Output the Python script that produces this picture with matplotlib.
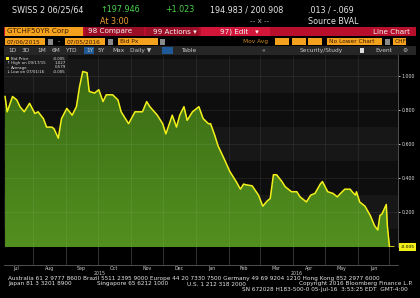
import matplotlib
matplotlib.use('Agg')
import matplotlib.pyplot as plt
import matplotlib.dates as mdates
import matplotlib.transforms as mtransforms
from matplotlib.patches import Rectangle
import numpy as np
import pandas as pd

# GTCHF50YR Corp, bid price (yield)
dates = ['2015-07-06', '2015-07-08', '2015-07-13', '2015-07-17', '2015-07-20', '2015-07-24',
         '2015-07-29', '2015-08-03', '2015-08-06', '2015-08-11', '2015-08-14', '2015-08-19',
         '2015-08-21', '2015-08-25', '2015-08-28', '2015-09-02', '2015-09-07', '2015-09-11',
         '2015-09-14', '2015-09-17', '2015-09-21', '2015-09-23', '2015-09-28', '2015-09-30',
         '2015-10-02', '2015-10-06', '2015-10-09', '2015-10-15', '2015-10-20', '2015-10-23',
         '2015-10-30', '2015-11-05', '2015-11-12', '2015-11-16', '2015-11-19', '2015-11-26',
         '2015-12-01', '2015-12-04', '2015-12-10', '2015-12-14', '2015-12-17', '2015-12-21',
         '2015-12-24', '2015-12-29', '2016-01-04', '2016-01-08', '2016-01-13', '2016-01-15',
         '2016-01-19', '2016-01-22', '2016-01-28', '2016-02-02', '2016-02-08', '2016-02-12',
         '2016-02-15', '2016-02-18', '2016-02-23', '2016-02-29', '2016-03-04', '2016-03-08',
         '2016-03-11', '2016-03-14', '2016-03-17', '2016-03-22', '2016-03-25', '2016-03-31',
         '2016-04-05', '2016-04-08', '2016-04-14', '2016-04-18', '2016-04-22', '2016-04-27',
         '2016-04-29', '2016-05-04', '2016-05-09', '2016-05-13', '2016-05-16', '2016-05-20',
         '2016-05-25', '2016-05-27', '2016-05-30', '2016-05-31', '2016-06-03', '2016-06-08',
         '2016-06-13', '2016-06-17', '2016-06-20', '2016-06-22', '2016-06-24', '2016-06-28',
         '2016-06-29', '2016-07-01', '2016-07-05']
bid_px = [0.88, 0.79, 0.88, 0.86, 0.82, 0.79,
          0.84, 0.78, 0.79, 0.75, 0.70, 0.70,
          0.69, 0.635, 0.75, 0.81, 0.77, 0.82,
          0.94, 1.027, 1.02, 0.91, 0.90, 0.91,
          0.92, 0.85, 0.89, 0.89, 0.86, 0.79,
          0.72, 0.79, 0.79, 0.85, 0.82, 0.77,
          0.72, 0.66, 0.77, 0.70, 0.77, 0.82,
          0.74, 0.79, 0.82, 0.75, 0.72, 0.72,
          0.65, 0.59, 0.51, 0.44, 0.38, 0.335,
          0.365, 0.36, 0.355, 0.30, 0.235, 0.265,
          0.28, 0.42, 0.42, 0.38, 0.35, 0.32,
          0.32, 0.29, 0.26, 0.30, 0.31, 0.365,
          0.38, 0.32, 0.31, 0.29, 0.31, 0.335,
          0.335, 0.32, 0.30, 0.32, 0.26, 0.235,
          0.18, 0.12, 0.095, 0.18, 0.19, 0.245,
          0.12, -0.005, -0.005]

month_starts = ['2015-07-01', '2015-08-01', '2015-09-01', '2015-10-01', '2015-11-01',
                '2015-12-01', '2016-01-01', '2016-02-01', '2016-03-01', '2016-04-01',
                '2016-05-01', '2016-06-01', '2016-07-01']
month_labels = ['Jul', 'Aug', 'Sep', 'Oct', 'Nov', 'Dec', 'Jan', 'Feb', 'Mar', 'Apr', 'May', 'Jun']
year_labels = ['2015', '2016']
y_ticks = [0.2, 0.4, 0.6, 0.8, 1.0]
y_tick_labels = ['0.200', '0.400', '0.600', '0.800', '1.000']
legend_names = ['Bid Price', 'High on 09/17/15', 'Average', 'Low on 07/01/16']
legend_values = ['-0.005', '1.027', '0.579', '-0.005']
last_label = '-0.005'

W, H = 420, 298
fig = plt.figure(figsize=(4.2, 2.98), dpi=100, facecolor='black')


def fx(x):
    return x / W


def fy(y):
    return 1 - y / H


def box(x0, y0, x1, y1, color):
    fig.patches.append(Rectangle((fx(x0), fy(y1)), (x1 - x0) / W, (y1 - y0) / H,
                                 transform=fig.transFigure, facecolor=color,
                                 edgecolor='none', zorder=0))


def txt(x, y, s, size=6.0, color='#e6e6e6', ha='left', **kw):
    fig.text(fx(x), fy(y), s, fontsize=size, color=color, ha=ha, va='center', **kw)


# ---- header quote lines
txt(12, 10, 'SWISS 2 06/25/64', 5.8)
txt(100, 10, '\u2191197.946', 5.8, '#4cd24c')
txt(165, 10, '+1.023', 5.8, '#4cd24c')
txt(210, 10, '194.983 / 200.908', 5.8)
txt(308, 10, '.013 / -.069', 5.8)
txt(100, 21, 'At 3:00', 5.8, '#f0a030')
txt(250, 21, '-- x --', 5.2, '#aaaaaa')
txt(308, 21, 'Source BVAL', 5.8)

# ---- red toolbar
box(4, 27, 416, 36, '#b8102c')
box(85, 27, 144, 36, '#9c0e26')
box(146, 27, 199, 36, '#9c0e26')
box(201, 27, 270, 36, '#d2163a')
box(5, 27, 83, 36, '#f4a21e')
txt(7, 31.5, 'GTCHF50YR Corp', 5.2, '#402000')
txt(88, 31.5, '98 Compare', 5.2, '#f2f2f2')
txt(153, 31.5, '99 Actions \u25be', 5.2, '#f2f2f2')
txt(220, 31.5, '97) Edit   \u25be', 5.2, '#f2f2f2')
txt(410, 31.5, 'Line Chart', 5.2, '#f2f2f2', ha='right')

# ---- orange input row
for x0, x1, s in [(5, 45, '07/06/2015'), (65, 105, '07/05/2016'), (118, 158, 'Bid Px'),
                  (327, 382, 'No Lower Chart'), (393, 406, 'CHF')]:
    box(x0, 38, x1, 45, '#f4a21e')
    txt(x0 + 2, 41.5, s, 4.2, '#3a1a00')
for x0 in [275, 292, 308]:
    box(x0, 38, x0 + 14, 45, '#f4a21e')
for x0 in [48, 108, 160, 385]:
    box(x0, 38.5, x0 + 5, 44.5, '#8a8a8a')
txt(58, 41.5, '-', 4.5)
txt(268, 41.5, 'Mov Avg', 4.2, '#d08a20', ha='right')

# ---- period buttons row
box(4, 46, 416, 55, '#262626')
box(84, 47, 94, 54, '#1f5a96')
box(162, 47, 173, 54, '#1f5a96')
for x, s in [(8, '1D'), (22, '3D'), (37, '1M'), (52, '6M'), (65, 'YTD'), (86, '1Y'),
             (98, '5Y'), (112, 'Max'), (130, 'Daily \u25bc'), (181, 'Table'),
             (262, '\u00ab'), (300, 'Security/Study'), (375, 'Event'), (402, '\u2699')]:
    txt(x, 50.5, s, 4.2, '#c8c8c8')
box(360, 48, 364, 53, '#dddddd')

# ---- main chart
xnum = mdates.date2num(pd.to_datetime(dates))
x_lo = mdates.date2num(pd.Timestamp('2015-07-05'))
x_hi = mdates.date2num(pd.Timestamp('2016-07-09'))
y_lo, y_hi = -0.005, 1.124

ax = fig.add_axes([fx(4), fy(247), (398 - 4) / W, (247 - 55) / H])
ax.set_facecolor('#0e0e0e')
ax.set_xlim(x_lo, x_hi)
ax.set_ylim(y_lo, y_hi)

# faint background bands
for b0, b1 in [(0.1, 0.3), (0.5, 0.7), (0.9, 1.1)]:
    ax.axhspan(b0, b1, color='#171717', lw=0, zorder=0)

poly = ax.fill_between(xnum, bid_px, y_lo, color='#467f1a', lw=0, zorder=1)
grad = np.linspace(0, 1, 256).reshape(-1, 1)
cmap = matplotlib.colors.LinearSegmentedColormap.from_list('g', ['#52901f', '#3a6a14'])
img = ax.imshow(grad, cmap=cmap, aspect='auto', origin='lower',
                extent=(x_lo, x_hi, y_lo, 1.05), zorder=2)
img.set_clip_path(poly.get_paths()[0], transform=ax.transData)
ax.set_xlim(x_lo, x_hi)
ax.set_ylim(y_lo, y_hi)

ms = mdates.date2num(pd.to_datetime(month_starts))
for m in ms[1:-1]:
    ax.axvline(m, color='#ffffff', alpha=0.08, lw=0.6, zorder=3)
for t in y_ticks:
    ax.axhline(t, color='#ffffff', alpha=0.08, lw=0.6, zorder=3)

ax.plot(xnum, bid_px, color='#f4f01c', lw=1.1, zorder=4, solid_joinstyle='round')

ax.yaxis.tick_right()
ax.set_yticks(y_ticks)
ax.set_yticklabels(y_tick_labels)
ax.tick_params(axis='y', colors='#dddddd', labelsize=3.4, length=1.5, width=0.6, pad=1)
ax.set_xticks([])
for side in ['top', 'left', 'bottom']:
    ax.spines[side].set_visible(False)
ax.spines['right'].set_color('#5a5a5a')
ax.spines['right'].set_linewidth(0.6)

blend = mtransforms.blended_transform_factory(ax.transAxes, ax.transData)
ax.text(1.006, bid_px[-1], last_label, transform=blend, fontsize=3.2, color='black',
        va='center', ha='left', clip_on=False, zorder=6,
        bbox=dict(boxstyle='square,pad=0.35', fc='#f2ee1a', ec='none'))

# legend block
box(4, 55, 68, 74, '#1b1b1b')
leg_y = [58.5, 63, 67.5, 72]
fig.patches.append(Rectangle((fx(6), fy(60)), 3 / W, 3 / H, transform=fig.transFigure,
                             facecolor='#f2ee1a', edgecolor='none', zorder=5))
for sym, yy in zip(['', '\u2191', '\u2013', '\u2193'], leg_y):
    if sym:
        txt(6.3, yy, sym, 3.0, '#dddddd')
for name, val, yy in zip(legend_names, legend_values, leg_y):
    txt(11, yy, name, 2.9, '#dddddd')
    txt(66, yy, val, 2.9, '#dddddd', ha='right')

# ---- date strip
ax2 = fig.add_axes([fx(4), fy(265), (398 - 4) / W, (265 - 247) / H])
ax2.set_facecolor('black')
ax2.set_xlim(x_lo, x_hi)
ax2.set_ylim(0, 1)
for m in ms[1:]:
    ax2.axvline(m, color='#3a3a3a', lw=0.6)
ax2.set_xticks([])
ax2.set_yticks([])
for side in ['top', 'left', 'right']:
    ax2.spines[side].set_visible(False)
ax2.spines['bottom'].set_color('#5a5a5a')
ax2.spines['bottom'].set_linewidth(0.6)
mid = (ms[:-1] + ms[1:]) / 2
xt = ax2.get_xaxis_transform()
for mm, lab in zip(mid, month_labels):
    ax2.text(mm, -0.18, lab, transform=xt, fontsize=3.4, color='#cccccc',
             ha='center', va='center', clip_on=False)
ax2.text((x_lo + ms[6]) / 2, -0.45, year_labels[0], transform=xt, fontsize=3.4,
         color='#cccccc', ha='center', va='center', clip_on=False)
ax2.text((ms[6] + x_hi) / 2, -0.45, year_labels[1], transform=xt, fontsize=3.4,
         color='#cccccc', ha='center', va='center', clip_on=False)

# ---- footer
txt(8, 278.5, 'Australia 61 2 9777 8600 Brazil 5511 2395 9000 Europe 44 20 7330 7500 '
    'Germany 49 69 9204 1210 Hong Kong 852 2977 6000', 4.15)
txt(8, 284, 'Japan 81 3 3201 8900', 4.15)
txt(97, 284, 'Singapore 65 6212 1000', 4.15)
txt(187, 284, 'U.S. 1 212 318 2000', 4.15)
txt(413, 284, 'Copyright 2016 Bloomberg Finance L.P.', 4.15, ha='right')
txt(408, 289.5, 'SN 672028 H183-500-0 05-Jul-16  3:53:25 EDT  GMT-4:00', 4.15, ha='right')

plt.savefig('out.png', dpi=100, facecolor='black')
